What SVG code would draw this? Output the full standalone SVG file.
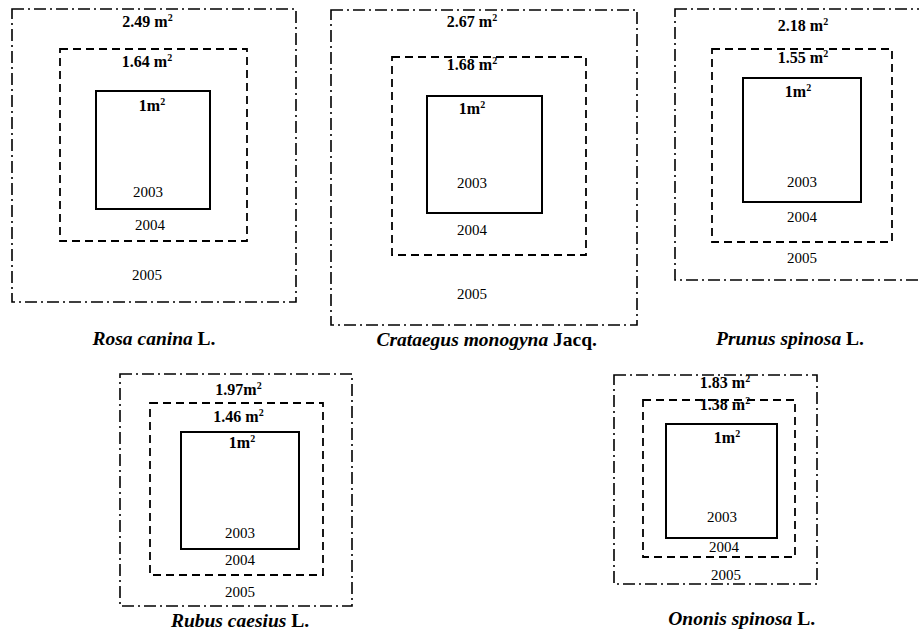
<svg xmlns="http://www.w3.org/2000/svg" width="919" height="632" viewBox="0 0 919 632">
<style>
.outer{fill:none;stroke:#000;stroke-width:1.6;stroke-dasharray:12 4 2 4}
.mid{fill:none;stroke:#000;stroke-width:1.8;stroke-dasharray:8 5}
.inner{fill:none;stroke:#000;stroke-width:2}
text{font-family:"Liberation Serif","Times New Roman",serif;fill:#000;text-anchor:middle}
.yr{font-size:15px}
.ar{font-size:16px;font-weight:bold}
.sp{font-size:19.5px;font-weight:bold}
.it{font-style:italic}
.sup{font-size:10px}
</style>
<rect width="919" height="632" fill="#fff"/>
<g id="rosa">
<rect class="outer" x="12" y="9" width="284" height="293"/>
<rect class="mid" x="60" y="49" width="187" height="192"/>
<rect class="inner" x="96" y="91" width="114" height="118"/>
<text class="ar" x="147.5" y="26.5">2.49 m<tspan class="sup" dy="-6">2</tspan></text>
<text class="ar" x="147" y="67">1.64 m<tspan class="sup" dy="-6">2</tspan></text>
<text class="ar" x="152" y="111">1m<tspan class="sup" dy="-6">2</tspan></text>
<text class="yr" x="148" y="197">2003</text>
<text class="yr" x="150" y="230">2004</text>
<text class="yr" x="147" y="279.5">2005</text>
<text class="sp" x="154" y="345"><tspan class="it">Rosa canina</tspan> L.</text>
</g>
<g id="crataegus">
<rect class="outer" x="331" y="10" width="306" height="315"/>
<rect class="mid" x="392" y="57" width="194" height="198"/>
<rect class="inner" x="427" y="96" width="115" height="117"/>
<text class="ar" x="472" y="26.5">2.67 m<tspan class="sup" dy="-6">2</tspan></text>
<text class="ar" x="472" y="69.5">1.68 m<tspan class="sup" dy="-6">2</tspan></text>
<text class="ar" x="472" y="114">1m<tspan class="sup" dy="-6">2</tspan></text>
<text class="yr" x="472" y="188">2003</text>
<text class="yr" x="472" y="234.5">2004</text>
<text class="yr" x="472" y="299">2005</text>
<text class="sp" x="486.7" y="346"><tspan class="it">Crataegus monogyna</tspan> Jacq.</text>
</g>
<g id="prunus">
<rect class="outer" x="675" y="9" width="250" height="271"/>
<rect class="mid" x="712" y="49" width="180" height="193"/>
<rect class="inner" x="743" y="78" width="118" height="124"/>
<text class="ar" x="803" y="30.5">2.18 m<tspan class="sup" dy="-6">2</tspan></text>
<text class="ar" x="803" y="63">1.55 m<tspan class="sup" dy="-6">2</tspan></text>
<text class="ar" x="798" y="96.5">1m<tspan class="sup" dy="-6">2</tspan></text>
<text class="yr" x="802" y="186.5">2003</text>
<text class="yr" x="802" y="221.5">2004</text>
<text class="yr" x="802" y="263">2005</text>
<text class="sp" x="790" y="345"><tspan class="it">Prunus spinosa</tspan> L.</text>
</g>
<g id="rubus">
<rect class="outer" x="120" y="374" width="232" height="232"/>
<rect class="mid" x="150" y="403" width="173" height="172"/>
<rect class="inner" x="181" y="432" width="118" height="117"/>
<text class="ar" x="238.5" y="394.5">1.97m<tspan class="sup" dy="-6">2</tspan></text>
<text class="ar" x="238.5" y="421.5">1.46 m<tspan class="sup" dy="-6">2</tspan></text>
<text class="ar" x="242" y="448">1m<tspan class="sup" dy="-6">2</tspan></text>
<text class="yr" x="240" y="538">2003</text>
<text class="yr" x="240" y="565">2004</text>
<text class="yr" x="240" y="596.5">2005</text>
<text class="sp" x="240" y="626.5"><tspan class="it">Rubus caesius</tspan> L.</text>
</g>
<g id="ononis">
<rect class="outer" x="614" y="375" width="203" height="209"/>
<rect class="mid" x="643" y="400" width="152" height="157"/>
<rect class="inner" x="666" y="424" width="111" height="114"/>
<text class="ar" x="725" y="388">1.83 m<tspan class="sup" dy="-6">2</tspan></text>
<text class="ar" x="725" y="409.5">1.38 m<tspan class="sup" dy="-6">2</tspan></text>
<text class="ar" x="727" y="442.5">1m<tspan class="sup" dy="-6">2</tspan></text>
<text class="yr" x="722" y="521.5">2003</text>
<text class="yr" x="724" y="551.5">2004</text>
<text class="yr" x="726" y="580">2005</text>
<text class="sp" x="741.7" y="624.5"><tspan class="it">Ononis spinosa</tspan> L.</text>
</g>
<g id="connectors"/>
</svg>
